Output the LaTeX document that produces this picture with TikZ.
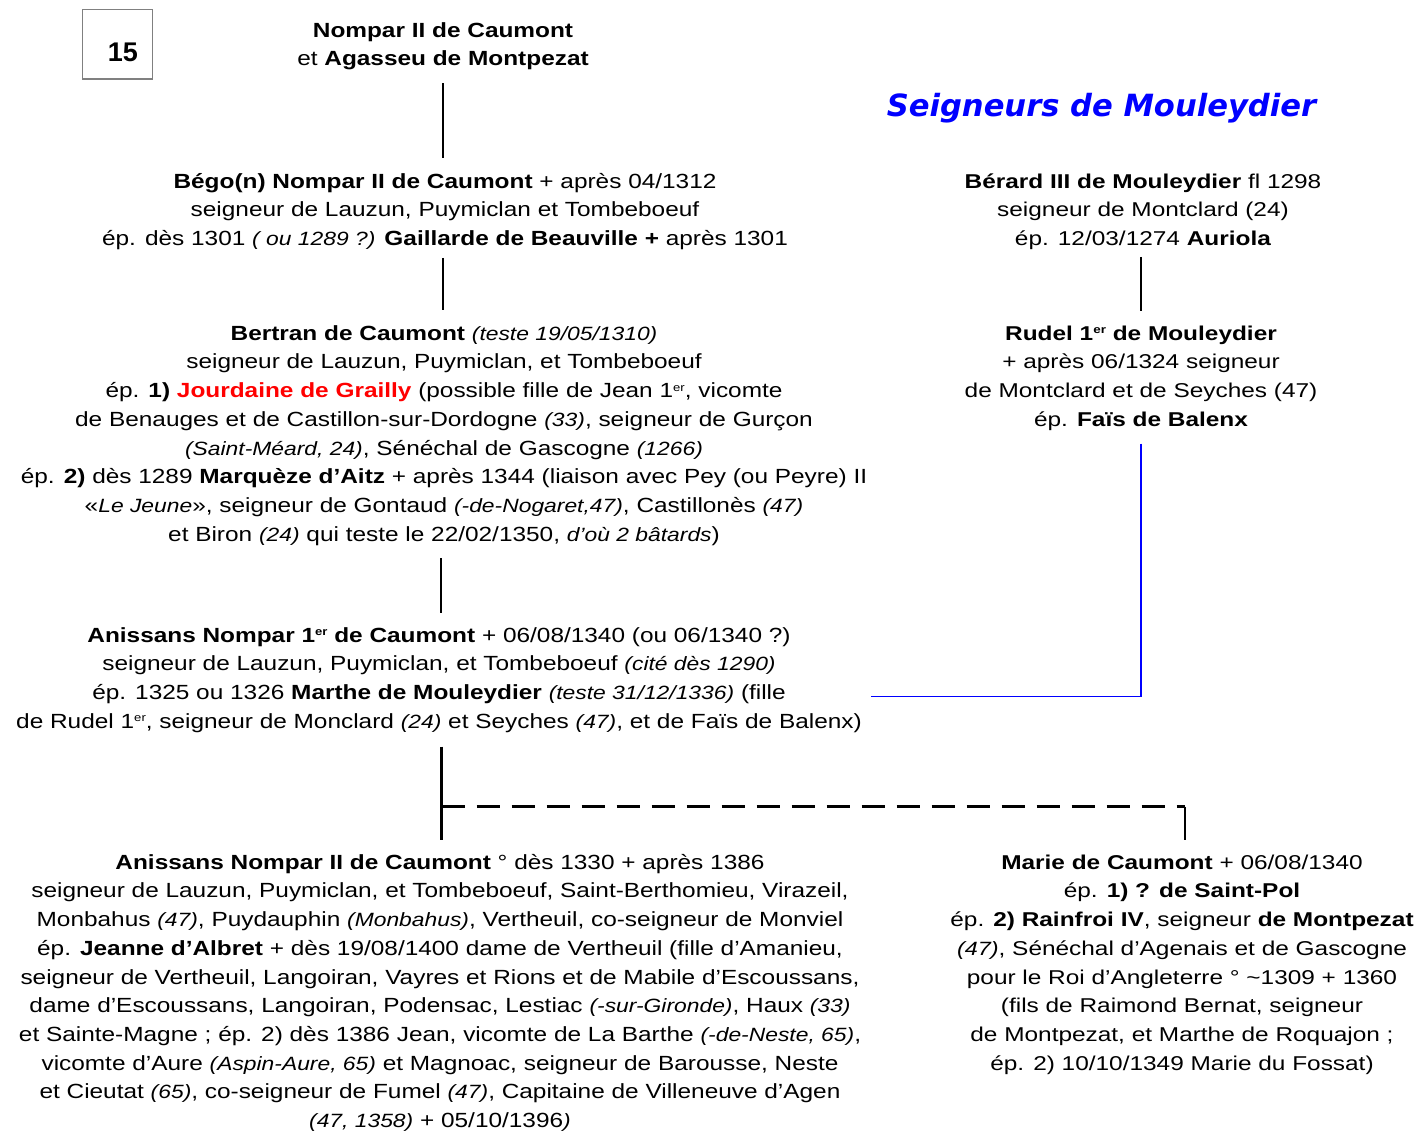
\documentclass[tikz,border=0pt]{standalone}
\usepackage{fontspec}
\usepackage{xcolor}
\setmainfont{Liberation Sans}
\newfontfamily\lfnt[FakeStretch=1.19]{Liberation Sans}
\newfontfamily\rfnt[FakeStretch=1.22]{Liberation Sans}
\newfontfamily\tfnt{DejaVu Sans}
\newcommand{\topstr}{\rule{0pt}{17pt}}
\newcommand{\botstr}{\rule[-6pt]{0pt}{6pt}}
\newcommand{\supr}[1]{\raisebox{6.5pt}{\fontsize{11}{11}\selectfont #1}}
\newcommand{\itx}[1]{{\itshape\fontsize{19.2}{28.7}\selectfont #1}}
\definecolor{ttlblue}{RGB}{0,0,255}
\definecolor{redname}{RGB}{255,0,0}
\begin{document}
\begin{tikzpicture}[x=1pt,y=-1pt,
  lbox/.style={inner sep=0pt,anchor=north,align=center,font=\lfnt\fontsize{20.5}{28.7}\selectfont},
  rbox/.style={inner sep=0pt,anchor=north,align=center,font=\rfnt\fontsize{20}{28.7}\selectfont},
  conn/.style={draw=black,line width=2.2pt},
  dashconn/.style={draw=black,line width=2.2pt,dash pattern=on 23pt off 12pt},
  blueconn/.style={draw=ttlblue,line width=1.3pt}]
\fill[white] (0,0) rectangle (1416,1132);
\useasboundingbox (0,0) rectangle (1416,1132);

\node[draw=gray,line width=1pt,minimum width=70pt,minimum height=69pt,inner sep=0pt] (num) at (117,44.5) {};
\node[anchor=base,inner sep=0pt,font=\fontsize{27}{30}\selectfont\bfseries] (numtxt) at (123,62) {15};

\node[anchor=base,inner sep=0pt,text=ttlblue,font=\tfnt\fontsize{30.6}{34}\selectfont\bfseries\itshape] (title) at (1101.5,116) {Seigneurs de Mouleydier};

\node[lbox] (A) at (443,20) {\topstr\textbf{Nompar II de Caumont}\\ et \textbf{Agasseu de Montpezat}\botstr};

\node[lbox] (B) at (445,171) {\topstr\textbf{Bégo(n) Nompar II de Caumont} + après 04/1312\\
seigneur de Lauzun, Puymiclan et Tombeboeuf\\
ép. dès 1301 \itx{( ou 1289 ?)} \textbf{Gaillarde de Beauville +} après 1301\botstr};

\node[lbox] (C) at (444,323) {\topstr\textbf{Bertran de Caumont} \itx{(teste 19/05/1310)}\\
seigneur de Lauzun, Puymiclan, et Tombeboeuf\\
ép. \textbf{1)} \textcolor{redname}{\textbf{Jourdaine de Grailly}} (possible fille de Jean 1\supr{er}, vicomte\\
de Benauges et de Castillon-sur-Dordogne \itx{(33)}, seigneur de Gurçon\\
\itx{(Saint-Méard, 24)}, Sénéchal de Gascogne \itx{(1266)}\\
ép. \textbf{2)} dès 1289 \textbf{Marquèze d’Aitz} + après 1344 (liaison avec Pey (ou Peyre) II\\
«\itx{Le Jeune}», seigneur de Gontaud \itx{(-de-Nogaret,47)}, Castillonès \itx{(47)}\\
et Biron \itx{(24)} qui teste le 22/02/1350, \itx{d’où 2 bâtards})\botstr};

\node[lbox] (D) at (439,625) {\topstr\textbf{Anissans Nompar 1\supr{er} de Caumont} + 06/08/1340 (ou 06/1340 ?)\\
seigneur de Lauzun, Puymiclan, et Tombeboeuf \itx{(cité dès 1290)}\\
ép. 1325 ou 1326 \textbf{Marthe de Mouleydier} \itx{(teste 31/12/1336)} (fille\\
de Rudel 1\supr{er}, seigneur de Monclard \itx{(24)} et Seyches \itx{(47)}, et de Faïs de Balenx)\botstr};

\node[lbox] (E) at (440,852) {\topstr\textbf{Anissans Nompar II de Caumont} ° dès 1330 + après 1386\\
seigneur de Lauzun, Puymiclan, et Tombeboeuf, Saint-Berthomieu, Virazeil,\\
Monbahus \itx{(47)}, Puydauphin \itx{(Monbahus)}, Vertheuil, co-seigneur de Monviel\\
ép. \textbf{Jeanne d’Albret} + dès 19/08/1400 dame de Vertheuil (fille d’Amanieu,\\
seigneur de Vertheuil, Langoiran, Vayres et Rions et de Mabile d’Escoussans,\\
dame d’Escoussans, Langoiran, Podensac, Lestiac \itx{(-sur-Gironde)}, Haux \itx{(33)}\\
et Sainte-Magne ; ép. 2) dès 1386 Jean, vicomte de La Barthe \itx{(-de-Neste, 65)},\\
vicomte d’Aure \itx{(Aspin-Aure, 65)} et Magnoac, seigneur de Barousse, Neste\\
et Cieutat \itx{(65)}, co-seigneur de Fumel \itx{(47)}, Capitaine de Villeneuve d’Agen\\
\itx{(47, 1358)} + 05/10/1396\itx{)}\botstr};

\node[rbox] (F) at (1143,171) {\topstr\textbf{Bérard III de Mouleydier} fl 1298\\
seigneur de Montclard (24)\\
ép. 12/03/1274 \textbf{Auriola}\botstr};

\node[rbox] (G) at (1141,323) {\topstr\textbf{Rudel 1\supr{er} de Mouleydier}\\
+ après 06/1324 seigneur\\
de Montclard et de Seyches (47)\\
ép. \textbf{Faïs de Balenx}\botstr};

\node[rbox] (H) at (1182,852) {\topstr\textbf{Marie de Caumont} + 06/08/1340\\
ép. \textbf{1) ? de Saint-Pol}\\
ép. \textbf{2) Rainfroi IV}, seigneur \textbf{de Montpezat}\\
\itx{(47)}, Sénéchal d’Agenais et de Gascogne\\
pour le Roi d’Angleterre ° \textasciitilde1309 + 1360\\
(fils de Raimond Bernat, seigneur\\
de Montpezat, et Marthe de Roquajon ;\\
ép. 2) 10/10/1349 Marie du Fossat)\botstr};

% connectors
\draw[conn,shorten <=11pt,shorten >=13pt] (A.south) -- (A.south |- B.north);
\draw[conn,shorten <=6pt,shorten >=13pt] ([xshift=-2pt]B.south) -- ([xshift=-2pt]B.south |- C.north);
\draw[conn,shorten <=11pt,shorten >=12pt] ([xshift=-3pt]C.south) -- ([xshift=-3pt]C.south |- D.north);
\draw[conn,shorten <=12pt,shorten >=12pt] ([xshift=2.5pt]D.south) -- ([xshift=2.5pt]D.south |- E.north);
\draw[conn,shorten <=5pt,shorten >=12pt] ([xshift=-2pt]F.south) -- ([xshift=-2pt]F.south |- G.north);

\coordinate (jl) at ([xshift=2.5pt,yshift=-72pt]D.south);
\coordinate (hx) at ([xshift=3pt,yshift=12pt]H.north);
\draw[dashconn] (jl) -- (jl -| hx);
\draw[conn] (jl -| hx) -- (hx);

\draw[blueconn] ([yshift=-11pt]G.south) |- ([xshift=9pt,yshift=-16.5pt]D.east);
\end{tikzpicture}
\end{document}
